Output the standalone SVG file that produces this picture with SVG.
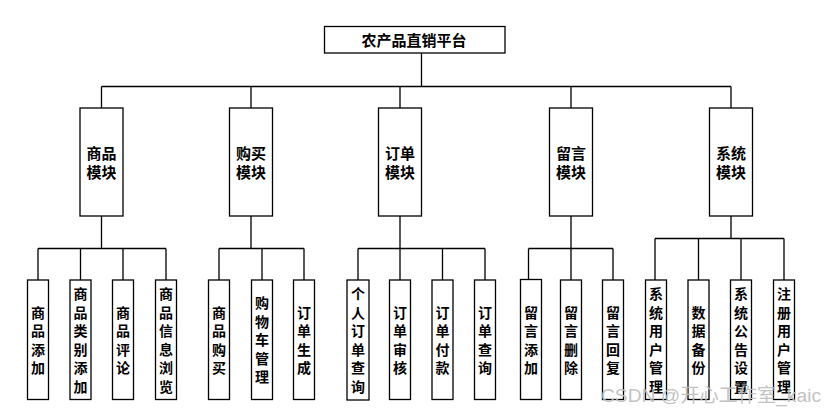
<svg xmlns="http://www.w3.org/2000/svg" width="836" height="415" viewBox="0 0 836 415">
<style>
.box{fill:#fff;stroke:#000;stroke-width:1.3}
.ln{fill:none;stroke:#000;stroke-width:1.3}
.t{font-family:"Noto Sans CJK SC","Noto Sans CJK JP",sans-serif;font-weight:700;fill:#000;text-anchor:middle}
.tt{font-size:15px}
.mt{font-size:15px}
.lt{font-size:14px}
.wm{font-family:"Liberation Sans","Noto Sans CJK SC",sans-serif;font-size:19px;fill:#bdbdbd;opacity:0.9}
</style>
<rect width="836" height="415" fill="#fff"/>
<g id="connectors">
<path class="ln" d="M421.5 53V86.5M101.5 86.5H731M101.5 86.5V108M251 86.5V108M400 86.5V108M571 86.5V108M731 86.5V108"/>
<path class="ln" d="M101.5 216V248.5M38 248.5H166M38 248.5V280M80.5 248.5V280M123 248.5V280M166 248.5V280"/>
<path class="ln" d="M251 216V248.5M219 248.5H304M219 248.5V280M262 248.5V280M304 248.5V280"/>
<path class="ln" d="M400 216V248.5M358 248.5H485M358 248.5V280M400 248.5V280M442.5 248.5V280M485 248.5V280"/>
<path class="ln" d="M571 216V248.5M528.5 248.5H613M528.5 248.5V280M571 248.5V280M613 248.5V280"/>
<path class="ln" d="M731 216V238.5M655 238.5H784M655 238.5V280M698.5 238.5V280M741 238.5V280M784 238.5V280"/>
</g>
<g id="root"><rect class="box" x="324.5" y="26.5" width="180.5" height="26.5"/><text class="t tt" x="414" y="45.7">农产品直销平台</text></g>
<g id="m1"><rect class="box" x="80" y="108" width="43" height="108"/><text class="t mt" x="101.5" y="158.7">商品</text><text class="t mt" x="101.5" y="177.7">模块</text></g>
<g id="m2"><rect class="box" x="229.5" y="108" width="43" height="108"/><text class="t mt" x="251" y="158.7">购买</text><text class="t mt" x="251" y="177.7">模块</text></g>
<g id="m3"><rect class="box" x="378.5" y="108" width="43" height="108"/><text class="t mt" x="400" y="158.7">订单</text><text class="t mt" x="400" y="177.7">模块</text></g>
<g id="m4"><rect class="box" x="549.5" y="108" width="43" height="108"/><text class="t mt" x="571" y="158.7">留言</text><text class="t mt" x="571" y="177.7">模块</text></g>
<g id="m5"><rect class="box" x="709.5" y="108" width="43" height="108"/><text class="t mt" x="731" y="158.7">系统</text><text class="t mt" x="731" y="177.7">模块</text></g>

<g id="l1"><rect class="box" x="27.5" y="280" width="21" height="119.5"/><text class="t lt" x="38" y="317.6"><tspan x="38">商</tspan><tspan x="38" dy="18.5">品</tspan><tspan x="38" dy="18.5">添</tspan><tspan x="38" dy="18.5">加</tspan></text></g>
<g id="l2"><rect class="box" x="70" y="280" width="21" height="119.5"/><text class="t lt" x="80.5" y="299.1"><tspan x="80.5">商</tspan><tspan x="80.5" dy="18.5">品</tspan><tspan x="80.5" dy="18.5">类</tspan><tspan x="80.5" dy="18.5">别</tspan><tspan x="80.5" dy="18.5">添</tspan><tspan x="80.5" dy="18.5">加</tspan></text></g>
<g id="l3"><rect class="box" x="112.5" y="280" width="21" height="119.5"/><text class="t lt" x="123" y="317.6"><tspan x="123">商</tspan><tspan x="123" dy="18.5">品</tspan><tspan x="123" dy="18.5">评</tspan><tspan x="123" dy="18.5">论</tspan></text></g>
<g id="l4"><rect class="box" x="155.5" y="280" width="21" height="119.5"/><text class="t lt" x="166" y="299.1"><tspan x="166">商</tspan><tspan x="166" dy="18.5">品</tspan><tspan x="166" dy="18.5">信</tspan><tspan x="166" dy="18.5">息</tspan><tspan x="166" dy="18.5">浏</tspan><tspan x="166" dy="18.5">览</tspan></text></g>

<g id="l5"><rect class="box" x="208.5" y="280" width="21" height="119.5"/><text class="t lt" x="219" y="317.6"><tspan x="219">商</tspan><tspan x="219" dy="18.5">品</tspan><tspan x="219" dy="18.5">购</tspan><tspan x="219" dy="18.5">买</tspan></text></g>
<g id="l6"><rect class="box" x="251.5" y="280" width="21" height="119.5"/><text class="t lt" x="262" y="308.3"><tspan x="262">购</tspan><tspan x="262" dy="18.5">物</tspan><tspan x="262" dy="18.5">车</tspan><tspan x="262" dy="18.5">管</tspan><tspan x="262" dy="18.5">理</tspan></text></g>
<g id="l7"><rect class="box" x="293.5" y="280" width="21" height="119.5"/><text class="t lt" x="304" y="317.6"><tspan x="304">订</tspan><tspan x="304" dy="18.5">单</tspan><tspan x="304" dy="18.5">生</tspan><tspan x="304" dy="18.5">成</tspan></text></g>

<g id="l8"><rect class="box" x="347" y="280" width="22" height="120"/><text class="t lt" x="358" y="299.1"><tspan x="358">个</tspan><tspan x="358" dy="18.5">人</tspan><tspan x="358" dy="18.5">订</tspan><tspan x="358" dy="18.5">单</tspan><tspan x="358" dy="18.5">查</tspan><tspan x="358" dy="18.5">询</tspan></text></g>
<g id="l9"><rect class="box" x="389.5" y="280" width="21" height="119.5"/><text class="t lt" x="400" y="317.6"><tspan x="400">订</tspan><tspan x="400" dy="18.5">单</tspan><tspan x="400" dy="18.5">审</tspan><tspan x="400" dy="18.5">核</tspan></text></g>
<g id="l10"><rect class="box" x="432" y="280" width="21" height="119.5"/><text class="t lt" x="442.5" y="317.6"><tspan x="442.5">订</tspan><tspan x="442.5" dy="18.5">单</tspan><tspan x="442.5" dy="18.5">付</tspan><tspan x="442.5" dy="18.5">款</tspan></text></g>
<g id="l11"><rect class="box" x="474.5" y="280" width="21" height="119.5"/><text class="t lt" x="485" y="317.6"><tspan x="485">订</tspan><tspan x="485" dy="18.5">单</tspan><tspan x="485" dy="18.5">查</tspan><tspan x="485" dy="18.5">询</tspan></text></g>

<g id="l12"><rect class="box" x="520.5" y="279.5" width="21" height="120"/><text class="t lt" x="531" y="317.6"><tspan x="531">留</tspan><tspan x="531" dy="18.5">言</tspan><tspan x="531" dy="18.5">添</tspan><tspan x="531" dy="18.5">加</tspan></text></g>
<g id="l13"><rect class="box" x="560.5" y="280" width="21" height="119.5"/><text class="t lt" x="571" y="317.6"><tspan x="571">留</tspan><tspan x="571" dy="18.5">言</tspan><tspan x="571" dy="18.5">删</tspan><tspan x="571" dy="18.5">除</tspan></text></g>
<g id="l14"><rect class="box" x="602.5" y="280" width="21" height="119.5"/><text class="t lt" x="613" y="317.6"><tspan x="613">留</tspan><tspan x="613" dy="18.5">言</tspan><tspan x="613" dy="18.5">回</tspan><tspan x="613" dy="18.5">复</tspan></text></g>

<g id="l15"><rect class="box" x="645.5" y="280" width="21" height="119.5"/><text class="t lt" x="656" y="299.1"><tspan x="656">系</tspan><tspan x="656" dy="18.5">统</tspan><tspan x="656" dy="18.5">用</tspan><tspan x="656" dy="18.5">户</tspan><tspan x="656" dy="18.5">管</tspan><tspan x="656" dy="18.5">理</tspan></text></g>
<g id="l16"><rect class="box" x="688" y="280" width="21" height="119.5"/><text class="t lt" x="698.5" y="317.6"><tspan x="698.5">数</tspan><tspan x="698.5" dy="18.5">据</tspan><tspan x="698.5" dy="18.5">备</tspan><tspan x="698.5" dy="18.5">份</tspan></text></g>
<g id="l17"><rect class="box" x="730.5" y="280" width="21" height="119.5"/><text class="t lt" x="741" y="299.1"><tspan x="741">系</tspan><tspan x="741" dy="18.5">统</tspan><tspan x="741" dy="18.5">公</tspan><tspan x="741" dy="18.5">告</tspan><tspan x="741" dy="18.5">设</tspan><tspan x="741" dy="18.5">置</tspan></text></g>
<g id="l18"><rect class="box" x="773.5" y="280" width="21" height="119.5"/><text class="t lt" x="784" y="299.1"><tspan x="784">注</tspan><tspan x="784" dy="18.5">册</tspan><tspan x="784" dy="18.5">用</tspan><tspan x="784" dy="18.5">户</tspan><tspan x="784" dy="18.5">管</tspan><tspan x="784" dy="18.5">理</tspan></text></g>

<text class="wm" x="601" y="402" textLength="220" lengthAdjust="spacingAndGlyphs">CSDN @开心工作室_kaic</text>
</svg>
